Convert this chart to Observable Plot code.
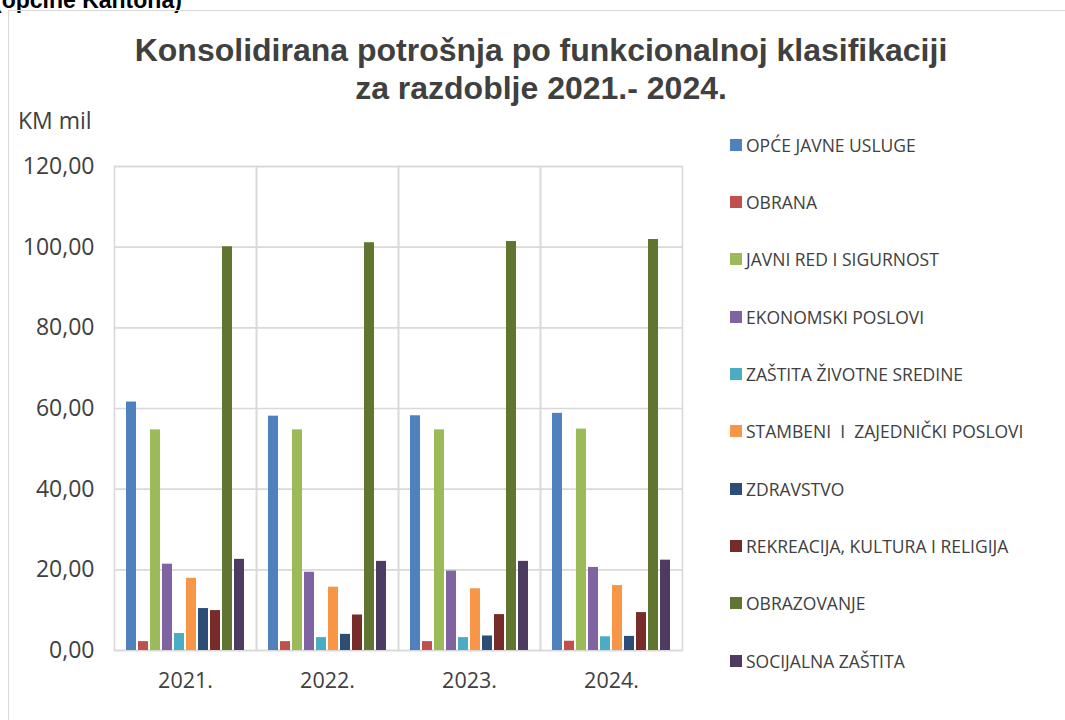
<!DOCTYPE html>
<html>
<head>
<meta charset="utf-8">
<script src="https://cdn.jsdelivr.net/npm/d3@7"></script>
<script src="https://cdn.jsdelivr.net/npm/@observablehq/plot@0.6"></script>
<style>
  html, body { margin: 0; padding: 0; background: #fff; }
  #wrap { position: relative; width: 1065px; height: 720px; overflow: hidden; background: #fff; }
  #wrap svg { position: absolute; left: 0; top: 0; }
  .cut { position: absolute; left: -6px; top: -10px; font: bold 23px "Liberation Sans", Arial, sans-serif; line-height: 20px; color: #000; white-space: nowrap; }
  .border { position: absolute; left: 8px; top: 10px; width: 1100px; height: 800px; border-left: 1.5px solid #d9d9d9; border-top: 1.5px solid #d9d9d9; }
  .title { position: absolute; left: 41px; width: 1000px; top: 31px; text-align: center; font: bold 32px "Liberation Sans", Arial, sans-serif; line-height: 38px; color: #404040; }
  .unit { position: absolute; left: 18px; top: 105px; font: 23px "Open Sans", sans-serif; color: #404040; line-height: 30px; }
  .legend { position: absolute; left: 730px; top: 116px; font: 17.5px "Open Sans", sans-serif; color: #404040; }
  .legend .row { height: 57.33px; display: flex; align-items: center; white-space: pre; }
  .legend .sw { width: 12px; height: 12px; margin-right: 4px; flex: none; }
</style>
</head>
<body>
<div id="wrap"></div>
<script>
const years = ["2021.", "2022.", "2023.", "2024."];
const categories = [
  "OPĆE JAVNE USLUGE",
  "OBRANA",
  "JAVNI RED I SIGURNOST",
  "EKONOMSKI POSLOVI",
  "ZAŠTITA ŽIVOTNE SREDINE",
  "STAMBENI  I  ZAJEDNIČKI POSLOVI",
  "ZDRAVSTVO",
  "REKREACIJA, KULTURA I RELIGIJA",
  "OBRAZOVANJE",
  "SOCIJALNA ZAŠTITA"
];
const colors = ["#4F81BD", "#C0504D", "#9BBB59", "#8064A2", "#4BACC6", "#F79646", "#2C4D75", "#772C2A", "#5F7530", "#4D3B62"];

// values per category, in order of years 2021.–2024.
const opceJavneUsluge      = [61.6, 58.1, 58.2, 58.8];
const obrana               = [2.2, 2.2, 2.2, 2.3];
const javniRed             = [54.7, 54.7, 54.7, 54.9];
const ekonomskiPoslovi     = [21.4, 19.4, 19.7, 20.6];
const zastitaSredine       = [4.2, 3.2, 3.2, 3.4];
const stambeniPoslovi      = [17.9, 15.7, 15.3, 16.1];
const zdravstvo            = [10.4, 4.0, 3.6, 3.5];
const rekreacija           = [9.9, 8.8, 8.9, 9.4];
const obrazovanje          = [100.1, 101.1, 101.4, 101.9];
const socijalnaZastita     = [22.6, 22.1, 22.1, 22.4];

const yTicks = [0, 20, 40, 60, 80, 100, 120];
const title1 = "Konsolidirana potrošnja po funkcionalnoj klasifikaciji";
const title2 = "za razdoblje 2021.- 2024.";
const unitLabel = "KM mil";
const topText = "(općine Kantona)";

const series = [opceJavneUsluge, obrana, javniRed, ekonomskiPoslovi, zastitaSredine,
                stambeniPoslovi, zdravstvo, rekreacija, obrazovanje, socijalnaZastita];

const data = [];
years.forEach((yr, j) => {
  categories.forEach((c, i) => data.push({year: yr, cat: c, value: series[i][j]}));
});

const fmt = d => d.toFixed(2).replace(".", ",");

const chart = Plot.plot({
  width: 1065,
  height: 720,
  marginLeft: 113,
  marginRight: 382,
  marginTop: 166,
  marginBottom: 70,
  style: {fontFamily: "'Open Sans', sans-serif", background: "transparent"},
  fx: {domain: years, padding: 0, label: null},
  x: {domain: categories, paddingInner: 0.19, paddingOuter: 0.85, axis: null},
  y: {domain: [0, 120], label: null},
  color: {domain: categories, range: colors},
  marks: [
    Plot.ruleY(yTicks, {stroke: "#d9d9d9", strokeWidth: 1.6}),
    Plot.frame({stroke: "#d9d9d9", strokeWidth: 1.6}),
    Plot.barY(data, {fx: "year", x: "cat", y: "value", fill: "cat"}),
    Plot.axisY({ticks: yTicks, tickSize: 0, tickPadding: 20, tickFormat: fmt, fontSize: 23, fill: "#404040", label: null}),
    Plot.axisFx({anchor: "bottom", tickSize: 0, tickPadding: 22, fontSize: 21.5, fill: "#404040", label: null})
  ]
});

const wrap = document.getElementById("wrap");
const cut = document.createElement("div"); cut.className = "cut"; cut.textContent = topText; wrap.appendChild(cut);
const border = document.createElement("div"); border.className = "border"; wrap.appendChild(border);
wrap.appendChild(chart);
const t = document.createElement("div"); t.className = "title"; t.innerHTML = title1 + "<br>" + title2; wrap.appendChild(t);
const u = document.createElement("div"); u.className = "unit"; u.textContent = unitLabel; wrap.appendChild(u);
const lg = document.createElement("div"); lg.className = "legend";
categories.forEach((c, i) => {
  const r = document.createElement("div"); r.className = "row";
  const s = document.createElement("span"); s.className = "sw"; s.style.background = colors[i];
  const tx = document.createElement("span"); tx.textContent = c;
  r.appendChild(s); r.appendChild(tx); lg.appendChild(r);
});
wrap.appendChild(lg);
</script>
</body>
</html>
